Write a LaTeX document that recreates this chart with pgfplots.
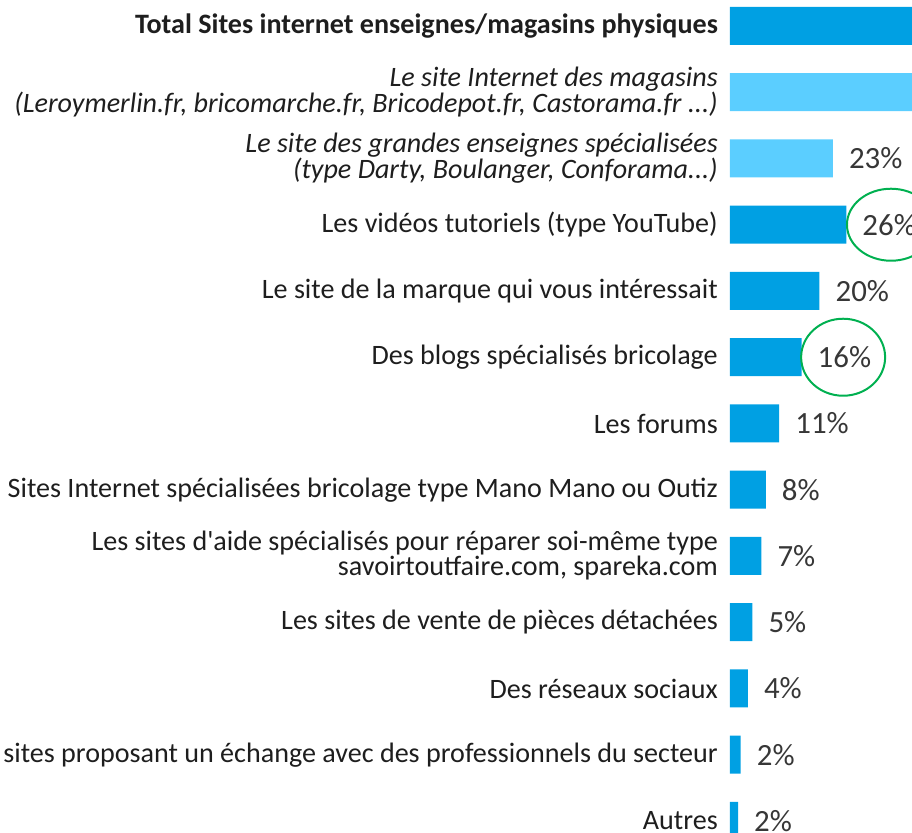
\documentclass[border=0pt]{standalone}
\usepackage{pgfplots}
\pgfplotsset{compat=1.18}
\usepackage{fontspec}
\setmainfont{Carlito}
\definecolor{bardark}{RGB}{0,160,227}
\definecolor{barlight}{RGB}{91,206,255}
\definecolor{lbltext}{RGB}{30,30,30}
\definecolor{pcttext}{RGB}{55,55,55}
\definecolor{ringgreen}{RGB}{0,176,80}
\begin{document}
\begin{tikzpicture}
\useasboundingbox (0,0) rectangle (912bp,833bp);
\clip (0,0) rectangle (912bp,833bp);
\begin{axis}[
  at={(730bp,-21.1bp)}, anchor=south west,
  scale only axis, width=182bp, height=861.25bp,
  xmin=0, xmax=40.7, ymin=-0.5, ymax=12.5, y dir=reverse,
  xbar, bar width=38bp, bar shift=0pt,
  axis line style={draw=none}, major tick length=0pt,
  xtick=\empty, ytick={0,1,2,3,4,5,6,7,8,9,10,11,12},
  yticklabels={
    {\bfseries Total Sites internet enseignes/magasins physiques},
    {\itshape Le site Internet des magasins\\\itshape (Leroymerlin.fr, bricomarche.fr, Bricodepot.fr, Castorama.fr .{}.{}.)},
    {\itshape Le site des grandes enseignes spécialisées\\\itshape (type Darty, Boulanger, Conforama.{}.{}.)},
    {Les vidéos tutoriels (type YouTube)},
    {Le site de la marque qui vous intéressait},
    {Des blogs spécialisés bricolage},
    {Les forums},
    {Sites Internet spécialisées bricolage type Mano Mano ou Outiz},
    {Les sites d\textquotesingle aide spécialisés pour réparer soi-même type\\savoirtoutfaire.com, spareka.com},
    {Les sites de vente de pièces détachées},
    {Des réseaux sociaux},
    {Des sites proposant un échange avec des professionnels du secteur},
    {Autres}},
  yticklabel style={font=\fontsize{28.2}{23.5}\selectfont, align=right, text=lbltext, inner sep=0pt, xshift=-12bp},
  point meta=explicit symbolic,
  nodes near coords,
  nodes near coords style={font=\fontsize{31}{31}\selectfont, text=pcttext, anchor=west, inner sep=0pt, xshift=16bp},
  clip=false,
]
\addplot[fill=bardark, draw=none] coordinates {
  (55,0) [55\%]
  (26,3) [26\%]
  (20,4) [20\%]
  (16,5) [16\%]
  (11,6) [11\%]
  (8,7) [8\%]
  (7,8) [7\%]
  (5,9) [5\%]
  (4,10) [4\%]
  (2.4,11) [2\%]
  (1.8,12) [2\%]
};
\addplot[fill=barlight, draw=none] coordinates {
  (48,1) [48\%]
  (23,2) [23\%]
};
\draw[ringgreen, line width=2bp] (axis cs:36.0,3) ellipse [x radius=44bp, y radius=36bp];
\draw[ringgreen, line width=2bp] (axis cs:25.3,5) ellipse [x radius=42bp, y radius=38.5bp];
\end{axis}
\end{tikzpicture}
\end{document}
